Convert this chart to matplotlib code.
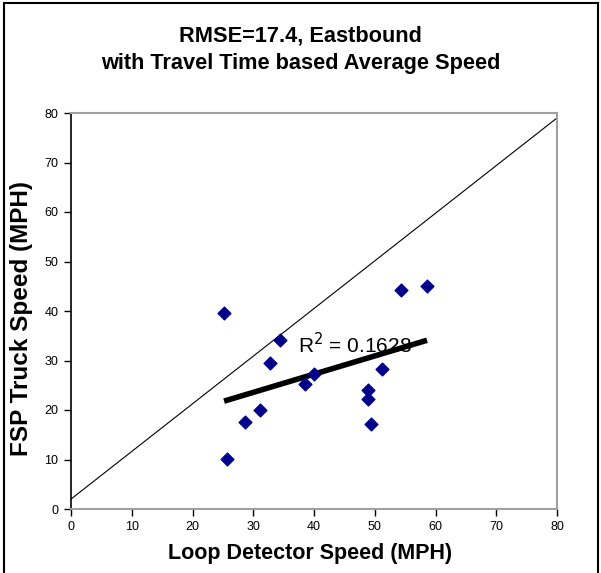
import numpy as np
import matplotlib.pyplot as plt
from matplotlib.patches import Rectangle

plt.rcParams['font.family'] = ['Liberation Sans', 'DejaVu Sans']

# loop detector speed vs FSP truck speed (MPH)
loop_speed = [25.2, 25.7, 28.7, 31.1, 32.7, 34.4, 38.6, 40.0, 48.9, 48.9, 49.4, 51.2, 54.3, 58.6]
truck_speed = [39.5, 10.1, 17.5, 20.0, 29.5, 34.1, 25.3, 27.2, 24.1, 22.3, 17.1, 28.3, 44.2, 45.0]

# reference diagonal as drawn in the original
diag_x = [0, 80]
diag_y = [2, 79]

x_ticks = np.arange(0, 81, 10)
y_ticks = np.arange(0, 81, 10)

fig = plt.figure(figsize=(6.01, 5.73), dpi=100)
ax = fig.add_axes([71 / 601, 1 - 509 / 573, 486 / 601, 396 / 573])

ax.plot(diag_x, diag_y, color='black', lw=0.8)

# linear trend over the data range
coef = np.polyfit(loop_speed, truck_speed, 1)
tx = np.array([min(loop_speed), max(loop_speed)])
ax.plot(tx, np.polyval(coef, tx), color='black', lw=4, solid_capstyle='butt')

ax.scatter(loop_speed, truck_speed, marker='D', s=42, color='#00008b', zorder=3)

ax.text(37.3, 31.5, r'R$^2$ = 0.1628', fontsize=15)

ax.set_xlim(0, 80)
ax.set_ylim(0, 80)
ax.set_xticks(x_ticks)
ax.set_yticks(y_ticks)
ax.tick_params(direction='out', length=5, width=1, labelsize=9, colors='black')
ax.tick_params(axis='y', pad=4)

for side in ['top', 'right', 'bottom']:
    ax.spines[side].set_color('#a0a0a0')
    ax.spines[side].set_linewidth(1.5)
ax.spines['left'].set_color('black')
ax.spines['left'].set_linewidth(1.2)

ax.set_xlabel('Loop Detector Speed (MPH)', fontsize=15.5, fontweight='bold')
ax.xaxis.set_label_coords(0.491, -0.086)
ax.set_ylabel('FSP Truck Speed (MPH)', fontsize=17.5, fontweight='bold')
ax.yaxis.set_label_coords(-0.078, 0.482)

fig.text(0.5, 1 - 36 / 573, 'RMSE=17.4, Eastbound', ha='center', va='center',
         fontsize=15.7, fontweight='bold')
fig.text(0.5, 1 - 63 / 573, 'with Travel Time based Average Speed', ha='center', va='center',
         fontsize=15.7, fontweight='bold')

fig.patches.append(Rectangle((4 / 601, -0.01), 594 / 601, 1 - 3 / 573 + 0.01,
                             transform=fig.transFigure, fill=False, edgecolor='black', lw=1.5))

fig.savefig('out.png', dpi=100)
